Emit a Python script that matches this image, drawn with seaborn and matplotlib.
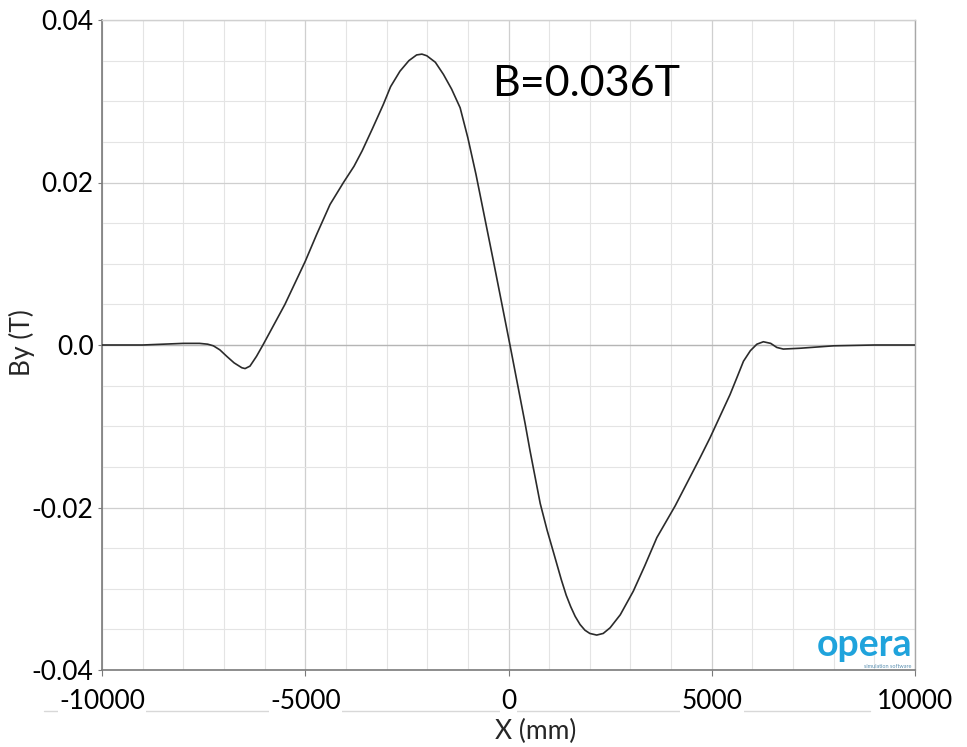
import matplotlib
matplotlib.use("Agg")
import matplotlib.pyplot as plt
import seaborn as sns
import numpy as np
import pandas as pd
from matplotlib.lines import Line2D

# ---- data ----
x_mm = [-10000, -9000, -8000, -7600, -7400, -7260, -7100, -6930, -6750, -6560,
        -6480, -6360, -6200, -6030, -5500, -5000, -4720, -4390, -4060, -3800,
        -3600, -3350, -3080, -2900, -2670, -2450, -2260, -2130, -2010, -1800,
        -1600, -1400, -1190, -1000, -800, -370, 40, 410, 529, 780,
        950, 1100, 1300, 1420, 1530, 1640, 1760, 1880, 2000, 2170,
        2330, 2500, 2750, 3070, 3350, 3650, 4100, 4710, 4960, 5450,
        5620, 5780, 5950, 6110, 6270, 6450, 6600, 6760, 7170, 8000,
        9000, 10000]
by_T = [0.0, 0.0, 0.0002, 0.0002, 0.0001, -0.0001, -0.0006, -0.0014, -0.0022, -0.0028,
        -0.0029, -0.0026, -0.0014, 0.0001, 0.0050, 0.0103, 0.0136, 0.0173, 0.0200, 0.0220,
        0.0239, 0.0266, 0.0296, 0.0318, 0.0337, 0.0350, 0.0357, 0.0358, 0.0356, 0.0348,
        0.0333, 0.0315, 0.0292, 0.0255, 0.0210, 0.0103, -0.0001, -0.0097, -0.0130, -0.0195,
        -0.0228, -0.0254, -0.0289, -0.0308, -0.0322, -0.0334, -0.0344, -0.0351, -0.0355, -0.0357,
        -0.0355, -0.0348, -0.0332, -0.0303, -0.0272, -0.0237, -0.0198, -0.0139, -0.0114, -0.0061,
        -0.0040, -0.0020, -0.0007, 0.0001, 0.0004, 0.0002, -0.0003, -0.0005, -0.0004, -0.0001,
        0.0, 0.0]

x_ticks = [-10000, -5000, 0, 5000, 10000]
x_tick_labels = ["-10000", "-5000", "0", "5000", "10000"]
y_ticks = [-0.04, -0.02, 0.0, 0.02, 0.04]
y_tick_labels = ["-0.04", "-0.02", "0.0", "0.02", "0.04"]
annotation = "B=0.036T"
x_label = "X (mm)"
y_label = "By (T)"

df = pd.DataFrame({"x": x_mm, "By": by_T})

sns.set_style("white")
plt.rcParams["font.family"] = ["Lato", "DejaVu Sans"]

W, H = 967, 747
fig = plt.figure(figsize=(W / 100, H / 100), dpi=100)
ax = fig.add_axes([102 / W, 1 - 670 / H, (915 - 102) / W, (670 - 20) / H])

sns.lineplot(data=df, x="x", y="By", ax=ax, color="#2b2b2b", linewidth=1.2, zorder=5)

ax.set_xlim(-10000, 10000)
ax.set_ylim(-0.04, 0.04)

ax.set_xticks(x_ticks)
ax.set_xticklabels(x_tick_labels)
ax.set_yticks(y_ticks)
ax.set_yticklabels(y_tick_labels)
ax.set_xticks(np.arange(-10000, 10001, 1000), minor=True)
ax.set_yticks(np.arange(-0.04, 0.0401, 0.005), minor=True)

ax.grid(True, which="major", color="#cfcfcf", linewidth=0.9)
ax.grid(True, which="minor", color="#e4e4e4", linewidth=0.8)
ax.axhline(0, color="#b5b5b5", linewidth=0.9, zorder=1)
ax.set_axisbelow(True)

for side in ["left", "bottom"]:
    ax.spines[side].set_color("#7a7a7a")
    ax.spines[side].set_linewidth(1.2)
ax.spines["right"].set_color("#a8a8a8")
ax.spines["right"].set_linewidth(1.0)
ax.spines["top"].set_color("#d0d0d0")
ax.spines["top"].set_linewidth(1.0)

ax.tick_params(axis="both", which="both", direction="out", color="#7a7a7a",
               labelsize=19, labelcolor="black")
ax.tick_params(axis="x", which="major", length=4, pad=10)
ax.tick_params(axis="x", which="minor", length=3)
ax.tick_params(axis="y", which="major", length=3, pad=3)
ax.tick_params(axis="y", which="minor", length=2)
ax.tick_params(left=True, bottom=True)

ax.set_xlabel("")
ax.set_ylabel("")
fig.text(536 / W, 1 - 731 / H, x_label, fontsize=19, ha="center", va="center")
fig.text(22 / W, 1 - 343 / H, y_label, fontsize=19, rotation=90, ha="center", va="center")

for lab in ax.get_xticklabels():
    lab.set_bbox(dict(facecolor="white", edgecolor="none", pad=1))

# thin gray rule behind x tick labels
fig.add_artist(Line2D([44 / W, 870 / W], [1 - 711 / H, 1 - 711 / H],
                      color="#d8d8d8", linewidth=1.0, zorder=0))

ax.text(-400, 0.0321, annotation, fontsize=31, color="black", ha="left", va="center")

# opera logo
ax.text(0.997, 0.012, "opera", transform=ax.transAxes, fontsize=27, fontweight="bold",
        color="#1fa3dc", ha="right", va="bottom", zorder=6)
ax.text(0.995, 0.002, "simulation software", transform=ax.transAxes, fontsize=4,
        color="#5a8fb0", ha="right", va="bottom", zorder=6)

fig.savefig("out.png", dpi=100)
